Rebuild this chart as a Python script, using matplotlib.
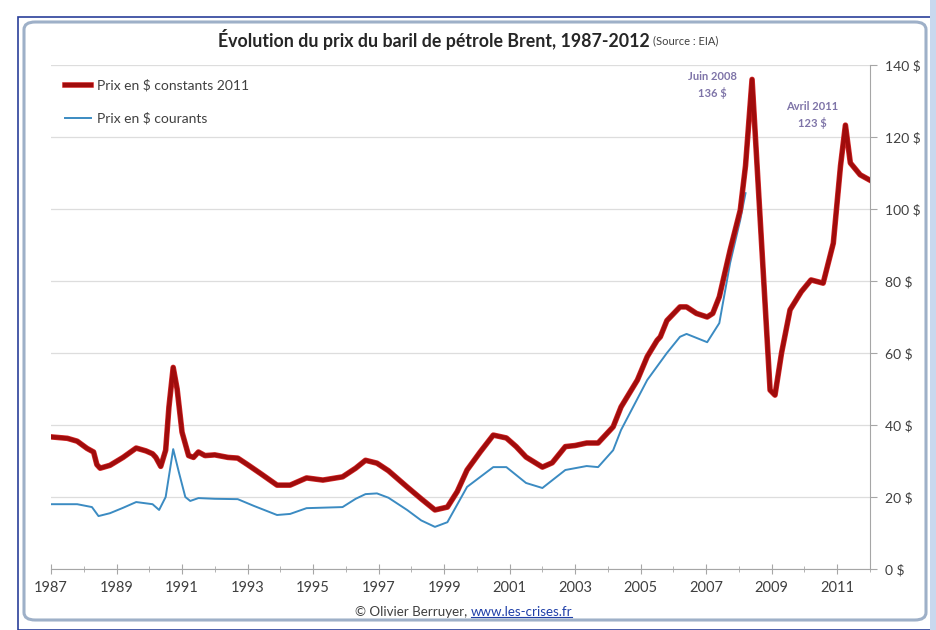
import numpy as np
import matplotlib
matplotlib.use('Agg')
import matplotlib.pyplot as plt
import matplotlib.patheffects as pe
from matplotlib.patches import FancyBboxPatch, Rectangle
from matplotlib.lines import Line2D
from matplotlib.ticker import FuncFormatter, MultipleLocator, FixedLocator

# data (decimal year, $ per barrel)
years_const = [1987.0, 1987.5, 1987.8, 1988.1, 1988.3, 1988.4, 1988.5, 1988.8, 1989.2, 1989.6,
               1989.9, 1990.1, 1990.2, 1990.35, 1990.5, 1990.6, 1990.73, 1990.85, 1991.0, 1991.2,
               1991.35, 1991.5, 1991.7, 1992.0, 1992.4, 1992.7, 1993.0, 1993.4, 1993.9, 1994.3,
               1994.8, 1995.3, 1995.9, 1996.3, 1996.6, 1996.95, 1997.3, 1997.87, 1998.3, 1998.72,
               1999.1, 1999.4, 1999.7, 2000.1, 2000.5, 2000.9, 2001.2, 2001.5, 2002.0, 2002.3,
               2002.7, 2003.0, 2003.35, 2003.7, 2004.16, 2004.4, 2004.9, 2005.2, 2005.5, 2005.6,
               2005.8, 2006.2, 2006.4, 2006.7, 2007.03, 2007.2, 2007.4, 2007.73, 2008.04, 2008.2,
               2008.4, 2008.95, 2009.1, 2009.3, 2009.56, 2009.9, 2010.2, 2010.57, 2010.88, 2011.1,
               2011.25, 2011.4, 2011.7, 2012.0]
price_const = [36.7, 36.3, 35.5, 33.5, 32.5, 29.0, 28.0, 28.8, 31.0, 33.6,
               32.8, 32.0, 31.0, 28.5, 33.0, 45.0, 56.0, 50.0, 38.0, 31.5,
               31.0, 32.5, 31.5, 31.7, 31.0, 30.8, 29.0, 26.5, 23.3, 23.3,
               25.3, 24.7, 25.6, 28.0, 30.2, 29.4, 27.3, 22.8, 19.5, 16.4,
               17.2, 21.5, 27.5, 32.5, 37.2, 36.4, 34.0, 31.1, 28.3, 29.5,
               34.0, 34.3, 35.0, 35.0, 39.5, 45.0, 52.5, 59.0, 63.5, 64.5,
               69.0, 72.8, 72.8, 71.0, 70.0, 71.0, 75.6, 88.6, 99.7, 112.0,
               136.0, 49.7, 48.3, 60.0, 72.0, 77.0, 80.3, 79.4, 90.5, 112.0,
               123.3, 112.8, 109.5, 108.0]

years_cur = [1987.0, 1987.8, 1988.25, 1988.45, 1988.8, 1989.2, 1989.6, 1990.1, 1990.3, 1990.5,
             1990.73, 1990.9, 1991.1, 1991.25, 1991.5, 1992.0, 1992.7, 1993.2, 1993.9, 1994.3,
             1994.8, 1995.9, 1996.3, 1996.6, 1996.95, 1997.3, 1997.87, 1998.3, 1998.72, 1999.1,
             1999.7, 2000.5, 2000.9, 2001.5, 2002.0, 2002.7, 2003.35, 2003.7, 2004.16, 2004.4,
             2005.2, 2005.8, 2006.2, 2006.4, 2007.03, 2007.4, 2007.73, 2008.04, 2008.2]
price_cur = [18.0, 18.0, 17.2, 14.7, 15.5, 17.0, 18.6, 18.0, 16.4, 20.0,
             33.3, 27.0, 20.0, 18.9, 19.7, 19.5, 19.4, 17.5, 15.0, 15.3,
             16.9, 17.2, 19.5, 20.8, 21.0, 19.8, 16.4, 13.5, 11.7, 13.0,
             22.8, 28.3, 28.3, 23.9, 22.5, 27.5, 28.6, 28.3, 33.0, 38.6,
             52.5, 60.0, 64.5, 65.3, 63.0, 68.3, 85.0, 97.0, 104.4]

year_ticks = list(range(1987, 2012, 2))
peaks = [(2008.4, 136, 'Juin 2008', (-40, -6)), (2011.25, 123, 'Avril 2011', (-33, 11))]

FONT = 'Lato'
TXT = '#404040'
W, H = 936, 630

fig = plt.figure(figsize=(W / 100, H / 100), dpi=100)
fig.patch.set_facecolor('white')

# frame around the chart, like the excel screenshot
fig.patches.append(Rectangle((18 / W, 0), 1, 1 - 17 / H, transform=fig.transFigure,
                             fill=False, edgecolor='#2a3f9a', lw=1.2))
fig.patches.append(Rectangle((930 / W, 0), 6 / W, 1, transform=fig.transFigure,
                             facecolor='#c9d8ee', edgecolor='none'))
fig.patches.append(FancyBboxPatch((24 / W, 10 / H), 902 / W, 598 / H,
                                  boxstyle='round,pad=0,rounding_size=0.012',
                                  transform=fig.transFigure, fill=False,
                                  edgecolor='#9eb0c8', lw=2.2))

ax = fig.add_axes([51 / W, 1 - 569 / H, 819 / W, 504 / H])
ax.set_xlim(1987, 2012)
ax.set_ylim(0, 140)

ax.plot(years_cur, price_cur, color='#3b8bc2', lw=1.4, zorder=3)
red, = ax.plot(years_const, price_const, color='#a00c0c', lw=3.0, zorder=4,
               solid_joinstyle='round',
               path_effects=[pe.Stroke(linewidth=4.0, foreground='#d42a2a'), pe.Normal()])

ax.grid(axis='y', color='#dddddd', lw=0.9)
ax.set_axisbelow(True)
for s in ['left', 'top']:
    ax.spines[s].set_visible(False)
for s in ['right', 'bottom']:
    ax.spines[s].set_color('#a6a6a6')

ax.yaxis.tick_right()
ax.yaxis.set_major_locator(MultipleLocator(20))
ax.yaxis.set_major_formatter(FuncFormatter(lambda v, p: '%d $' % v))
ax.tick_params(axis='y', direction='out', length=5, color='#a6a6a6', pad=6,
               labelsize=10, labelcolor=TXT)
ax.xaxis.set_major_locator(FixedLocator(year_ticks))
ax.xaxis.set_minor_locator(MultipleLocator(1))
ax.xaxis.set_major_formatter(FuncFormatter(lambda v, p: '%d' % v))
ax.tick_params(axis='x', which='major', direction='inout', length=7, color='#a6a6a6',
               pad=5, labelsize=10.5, labelcolor=TXT)
ax.tick_params(axis='x', which='minor', direction='inout', length=5, color='#a6a6a6')
for lab in ax.get_xticklabels() + ax.get_yticklabels():
    lab.set_family(FONT)

for x, v, name, off in peaks:
    ax.annotate('%s\n%d $' % (name, v), xy=(x, v), xytext=off,
                textcoords='offset pixels', ha='center', va='center', fontsize=8,
                fontweight='bold', color='#7e74a8', family=FONT, linespacing=1.5)

red_handle = Line2D([], [], color='#a00c0c', lw=3.0,
                    path_effects=[pe.Stroke(linewidth=4.0, foreground='#d42a2a'), pe.Normal()])
blue_handle = Line2D([], [], color='#3b8bc2', lw=1.4)
ax.legend([red_handle, blue_handle], ['Prix en $ constants 2011', 'Prix en $ courants'],
          loc='upper left', bbox_to_anchor=(0.0, 1.0), frameon=False,
          prop={'family': FONT, 'size': 10}, labelspacing=1.5, handlelength=1.9,
          handletextpad=0.4, borderaxespad=0.6, labelcolor=TXT)

# title: bold part then small source note
t1 = fig.text(218 / W, 1 - 40 / H, 'Évolution du prix du baril de pétrole Brent, 1987-2012',
              family=FONT, fontweight='bold', fontsize=12.8, color='#262626', va='center')
fig.canvas.draw()
bb = t1.get_window_extent()
fig.text(bb.x1 / W + 3 / W, 1 - 41 / H, '(Source : EIA)', family=FONT, fontsize=8,
         color=TXT, va='center')

# footer with underlined link
f1 = fig.text(355 / W, 1 - 612 / H, '© Olivier Berruyer, ', family=FONT, fontsize=9.6,
              color=TXT, va='center')
fig.canvas.draw()
bb = f1.get_window_extent()
f2 = fig.text(bb.x1 / W, 1 - 612 / H, 'www.les-crises.fr', family=FONT, fontsize=9.6,
              color='#1f3fa8', va='center')
fig.canvas.draw()
bb = f2.get_window_extent()
fig.add_artist(Line2D([bb.x0 / W, bb.x1 / W], [(bb.y0 + 1) / H] * 2, color='#1f3fa8', lw=0.8))

fig.savefig('out.png', dpi=100)
